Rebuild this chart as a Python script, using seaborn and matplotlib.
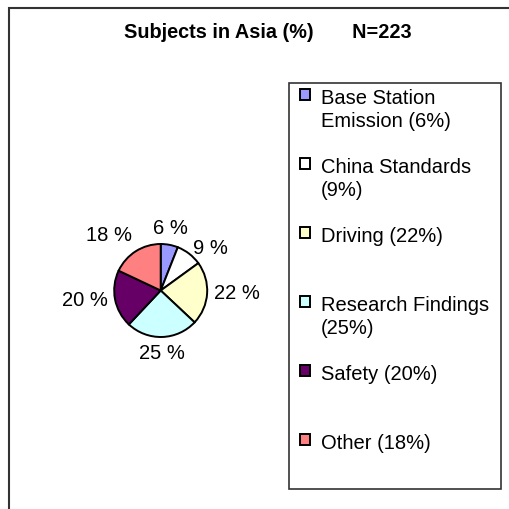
import numpy as np
import matplotlib
matplotlib.use("Agg")
import matplotlib.pyplot as plt
import matplotlib.patches as mpatches
import seaborn as sns

# ---- data ----
title_text = "Subjects in Asia (%)       N=223"
legend_texts = ["Base Station\nEmission (6%)", "China Standards\n(9%)", "Driving (22%)",
                "Research Findings\n(25%)", "Safety (20%)", "Other (18%)"]
values = [6, 9, 22, 25, 20, 18]
colors = ["#9999FF", "#FFFFFF", "#FFFFCC", "#CCFFFF", "#660066", "#FF8080"]

sns.set_theme(style="white")
plt.rcParams["font.family"] = ["Liberation Sans", "DejaVu Sans"]
plt.rcParams["text.color"] = "black"
plt.rcParams["legend.labelcolor"] = "black"

W = 509
fig = plt.figure(figsize=(5.09, 5.09), dpi=100)
fig.patch.set_facecolor("white")

# outer chart frame (cut by image edge at right/bottom)
frame = mpatches.Rectangle((8.5 / W, -0.05), 1.0, 1 - 7.5 / W + 0.05, transform=fig.transFigure,
                           facecolor="none", edgecolor="#333333", linewidth=1.5, clip_on=False)
fig.patches.append(frame)

# title
fig.text(267.5 / W, 1 - 33 / W, title_text, ha="center", va="center",
         fontsize=14.3, fontweight="bold", color="black")

# pie axes
cx, cy, r = 160.7, 290.5, 46.5
half = 1.5 * r
ax = fig.add_axes([(cx - half) / W, (W - cy - half) / W, 2 * half / W, 2 * half / W])
pct_labels = [f"{v} %" for v in values]
wedges, texts = ax.pie(values, colors=colors, startangle=90, counterclock=False,
                       labels=pct_labels, labeldistance=1.15,
                       wedgeprops=dict(edgecolor="black", linewidth=1.4),
                       textprops=dict(fontsize=14.5, color="black"))
ax.set_xlim(-1.5, 1.5)
ax.set_ylim(-1.5, 1.5)
ax.set_aspect("equal")
ax.axis("off")
for t in texts:
    x, y = t.get_position()
    rr = np.hypot(x, y)
    c, s = x / rr, y / rr
    t.set_ha("left" if c > 0.3 else ("right" if c < -0.3 else "center"))
    t.set_va("bottom" if s > 0.8 else ("top" if s < -0.8 else "center"))

# legend box
box = mpatches.Rectangle((288.5 / W, 1 - 489 / W), (501 - 288.5) / W, (489 - 82.7) / W,
                         transform=fig.transFigure, facecolor="white", edgecolor="#333333",
                         linewidth=1.2, zorder=0)
fig.patches.append(box)

# every legend slot holds three text rows (Excel-style even spacing)
padded = []
for i, lab in enumerate(legend_texts):
    n = lab.count("\n") + 1
    padded.append(lab if i == len(legend_texts) - 1 else lab + "\n" * (3 - n))

leg = fig.legend(wedges, padded, loc="upper left",
                 bbox_to_anchor=(300 / W, 1 - 89 / W), bbox_transform=fig.transFigure,
                 frameon=False, fontsize=14.5, borderpad=0, borderaxespad=0,
                 handlelength=0.5, handleheight=0.5, handletextpad=0.55,
                 labelspacing=0.22)
for t in leg.get_texts():
    t.set_linespacing(1.25)
    t.set_color("black")
for col in leg._legend_handle_box.get_children():
    for item in col.get_children():
        item.align = "top"

fig.savefig("out.png", dpi=100, facecolor="white")
